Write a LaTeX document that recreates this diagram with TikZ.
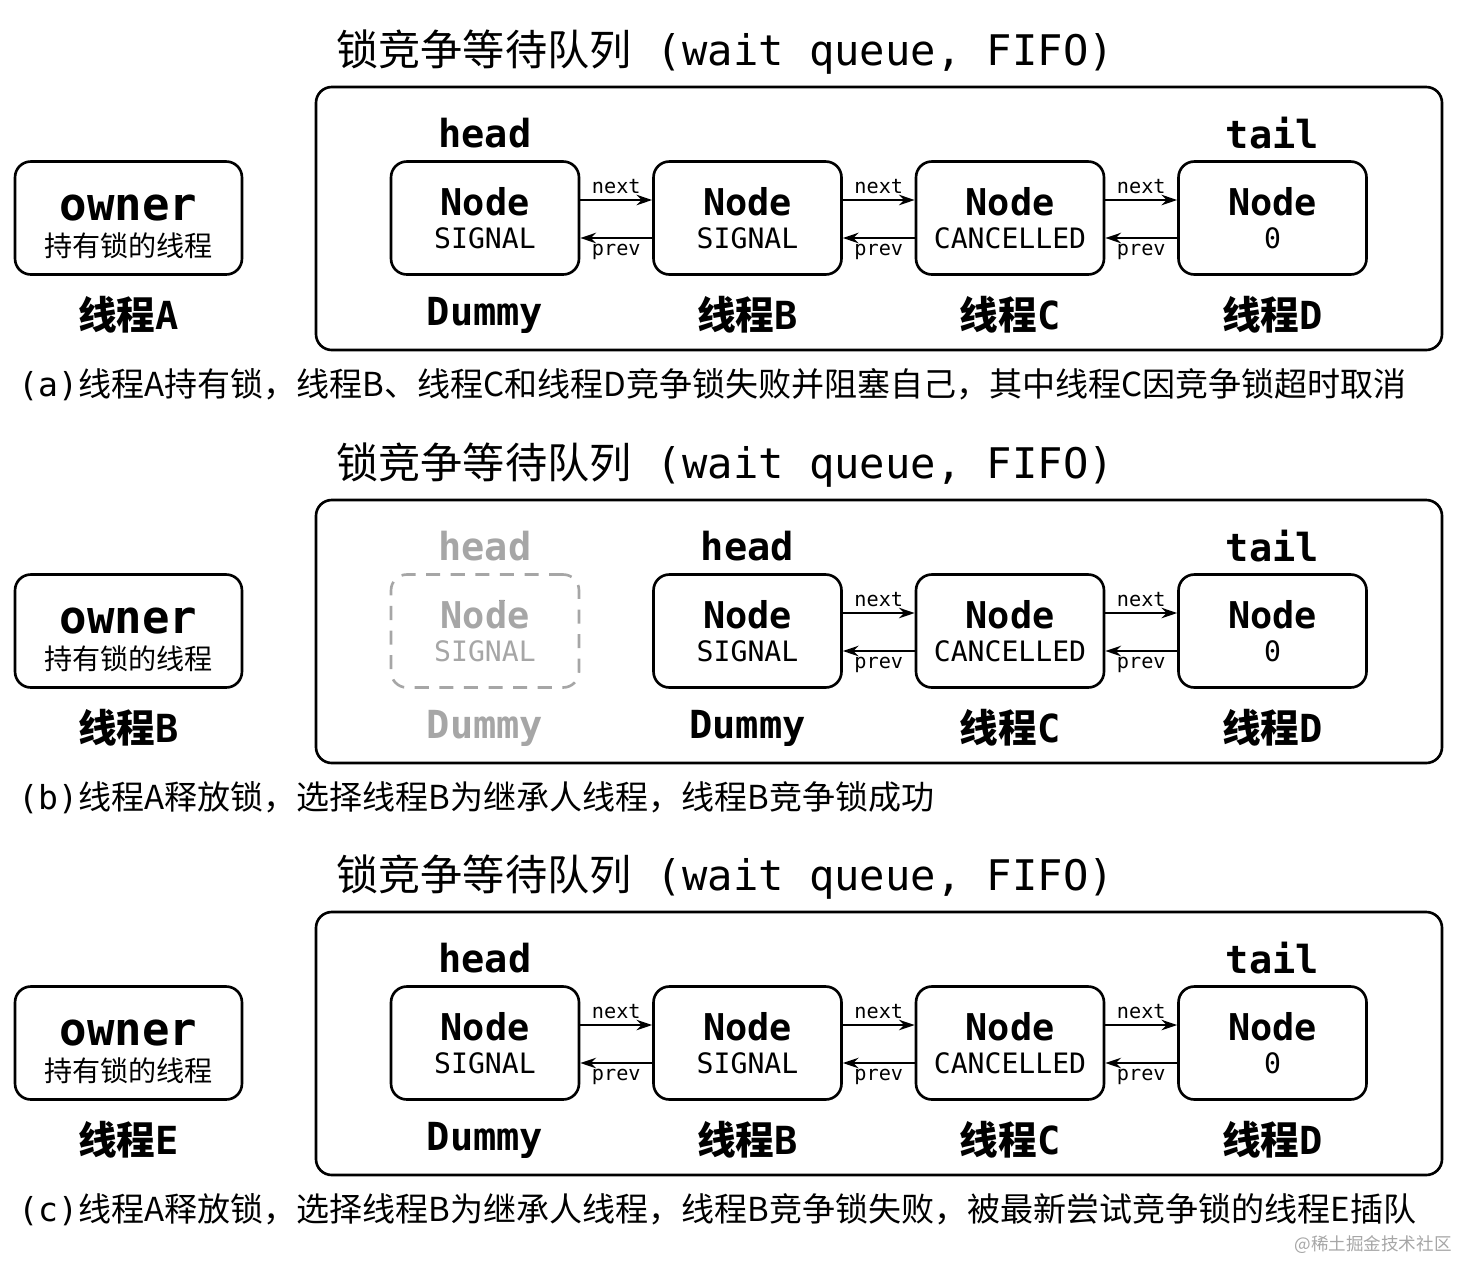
\documentclass[tikz,border=0pt]{standalone}
\usepackage{fontspec}
\setmainfont{DejaVu Sans Mono}
\newfontfamily\cjk{Noto Sans CJK SC}
\usetikzlibrary{arrows.meta,calc}

\newcommand{\fs}[1]{\fontsize{#1}{#1}\selectfont}

\tikzset{
  box/.style={draw, line width=1.5pt, rounded corners=9pt, minimum width=3.76cm, minimum height=2.26cm, inner sep=0pt},
  ghost/.style={box, draw=black!35, dashed, dash pattern=on 8pt off 6pt},
  frame/.style={draw, line width=1.5pt, rounded corners=9pt},
  lnk/.style={line width=1pt, -{Stealth[length=9pt,width=6pt]}},
  tiny/.style={font=\fs{11.5}, inner sep=3pt},
  big/.style={font=\bfseries\fs{22}, inner sep=0pt},
}

% queue node: name, x, y-offset, second line, style
\newcommand{\qnode}[5]{%
  \node[#5] (#1) at (#2,{218+#3}) {};
  \node[inner sep=0pt, font=\bfseries\fs{21}] (#1n) at ($(#1)+(0,-16)$) {Node};
  \node[inner sep=0pt, font=\fs{16}] (#1s) at ($(#1)+(0,20)$) {#4};
}
% links between two nodes
\newcommand{\qlink}[2]{%
  \draw[lnk] ($(#1.east)+(0,-18)$) -- node[tiny, above] {next} ($(#2.west)+(0,-18)$);
  \draw[lnk] ($(#2.west)+(0,20)$) -- node[tiny, below] {prev} ($(#1.east)+(0,20)$);
}

\begin{document}
\begin{tikzpicture}[x=0.02cm, y=-0.02cm]
\useasboundingbox (0,0) rectangle (1458,1262);

% common parts of the three panels
\foreach \o/\who in {0/A, 413/B, 825/E} {
  \draw[frame] (316,{87+\o}) rectangle (1442,{350+\o});
  \node[anchor=west, inner sep=0pt, font=\fs{24}] (title\who) at (336,{52+\o}) {{\cjk 锁竞争等待队列} (wait queue, FIFO)};
  \node[box, minimum width=4.54cm] (own\who) at (128.5,{218+\o}) {};
  \node[inner sep=0pt, font=\bfseries\fs{26}] (ownt\who) at ($(own\who)+(0,-10)$) {owner};
  \node[inner sep=0pt, font=\cjk\fs{16}] (ownc\who) at ($(own\who)+(0,28)$) {持有锁的线程};
  \node[big] (who\who) at (128.5,{315+\o}) {{\cjk 线程}\who};
}

% panel (a)
\qnode{a1}{485}{0}{SIGNAL}{box}
\qnode{a2}{747.5}{0}{SIGNAL}{box}
\qnode{a3}{1010}{0}{CANCELLED}{box}
\qnode{a4}{1272.5}{0}{0}{box}
\qlink{a1}{a2}\qlink{a2}{a3}\qlink{a3}{a4}
\node[big] (ah) at (485,133) {head};
\node[big] (at) at (1272.5,133) {tail};
\node[big] (al1) at (485,315) {Dummy};
\node[big] (al2) at (747.5,315) {{\cjk 线程}B};
\node[big] (al3) at (1010,315) {{\cjk 线程}C};
\node[big] (al4) at (1272.5,315) {{\cjk 线程}D};
\node[anchor=west, inner sep=0pt, font=\fs{18.8}] (capa) at (18,385) {(a){\cjk 线程A持有锁，线程B、线程C和线程D竞争锁失败并阻塞自己，其中线程C因竞争锁超时取消}};

% panel (b)
\qnode{b1}{485}{413}{\color{black!35}SIGNAL}{ghost}
\node[inner sep=0pt, font=\bfseries\fs{21}, text=black!35, fill=white] at (b1n) {Node};
\qnode{b2}{747.5}{413}{SIGNAL}{box}
\qnode{b3}{1010}{413}{CANCELLED}{box}
\qnode{b4}{1272.5}{413}{0}{box}
\qlink{b2}{b3}\qlink{b3}{b4}
\node[big, text=black!35] (bh0) at (485,546) {head};
\node[big] (bh) at (747.5,546) {head};
\node[big] (bt) at (1272.5,546) {tail};
\node[big, text=black!35] (bl1) at (485,728) {Dummy};
\node[big] (bl2) at (747.5,728) {Dummy};
\node[big] (bl3) at (1010,728) {{\cjk 线程}C};
\node[big] (bl4) at (1272.5,728) {{\cjk 线程}D};
\node[anchor=west, inner sep=0pt, font=\fs{18.8}] (capb) at (18,798) {(b){\cjk 线程A释放锁，选择线程B为继承人线程，线程B竞争锁成功}};

% panel (c)
\qnode{c1}{485}{825}{SIGNAL}{box}
\qnode{c2}{747.5}{825}{SIGNAL}{box}
\qnode{c3}{1010}{825}{CANCELLED}{box}
\qnode{c4}{1272.5}{825}{0}{box}
\qlink{c1}{c2}\qlink{c2}{c3}\qlink{c3}{c4}
\node[big] (ch) at (485,958) {head};
\node[big] (ct) at (1272.5,958) {tail};
\node[big] (cl1) at (485,1140) {Dummy};
\node[big] (cl2) at (747.5,1140) {{\cjk 线程}B};
\node[big] (cl3) at (1010,1140) {{\cjk 线程}C};
\node[big] (cl4) at (1272.5,1140) {{\cjk 线程}D};
\node[anchor=west, inner sep=0pt, font=\fs{18.8}] (capc) at (18,1210) {(c){\cjk 线程A释放锁，选择线程B为继承人线程，线程B竞争锁失败，被最新尝试竞争锁的线程E插队}};

% watermark
\node[anchor=east, inner sep=0pt, font=\cjk\fs{10}, text=black!35] (wm) at (1452,1245) {@稀土掘金技术社区};
\end{tikzpicture}
\end{document}
